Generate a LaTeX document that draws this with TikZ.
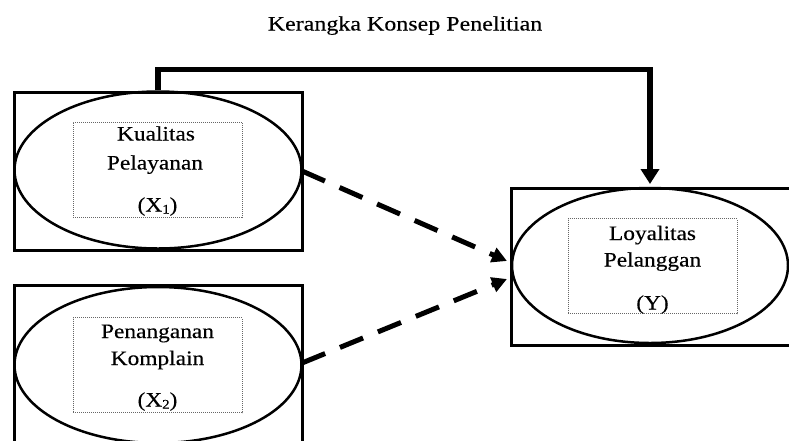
\documentclass[tikz,border=0pt]{standalone}
\usepackage{fontspec}
\setmainfont{Liberation Serif}
\newfontfamily\lblfont[FakeStretch=1.14,FakeBold=0.3]{Liberation Serif}
\newfontfamily\ttlfont[FakeStretch=1.17,FakeBold=0.25]{Liberation Serif}
\usetikzlibrary{shapes.geometric,arrows.meta}
\newcommand\subidx[1]{\raisebox{-2pt}{\fontsize{13}{13}\selectfont #1}}
\begin{document}
\begin{tikzpicture}[x=1pt,y=-1pt,
  outerbox/.style={draw, line width=3pt, rectangle, inner sep=0pt},
  concept/.style={draw, line width=2.5pt, ellipse, inner sep=0pt},
  dotbox/.style={draw=black!60, line width=0.9pt, dash pattern=on 1pt off 1pt, rectangle, inner sep=0pt, minimum width=169pt, minimum height=95pt},
  lbl/.style={font=\lblfont\fontsize{20.5}{24}\selectfont, anchor=base, inner sep=0pt},
  ttl/.style={font=\ttlfont\fontsize{20.5}{24}\selectfont, anchor=base, inner sep=0pt},
  solidarrow/.style={line width=5.5pt, -{Triangle[length=15pt,width=18pt]}},
  dasharrow/.style={line width=5pt, dash pattern=on 25pt off 16pt, -{Triangle[length=15pt,width=15pt]}}
]
\useasboundingbox (0,0) rectangle (789,440);
\clip (0,0) rectangle (789,440);

\node[ttl] (title) at (405,30.5) {Kerangka Konsep Penelitian};

% outer rectangles
\node[outerbox, minimum width=288pt, minimum height=158pt] (r1) at (158,171) {};
\node[outerbox, minimum width=288pt, minimum height=170pt] (r2) at (158,370) {};
\node[outerbox, minimum width=290pt, minimum height=157pt] (r3) at (656,266.5) {};

% ellipses
\node[concept, minimum width=287pt, minimum height=157pt] (e1) at (158,170) {};
\node[concept, minimum width=287pt, minimum height=156pt] (e2) at (158,365) {};
\node[concept, minimum width=276pt, minimum height=155pt] (e3) at (650,265.5) {};

% dotted boxes
\node[dotbox] (d1) at (157.5,169.5) {};
\node[dotbox] (d2) at (157.5,365) {};
\node[dotbox] (d3) at (652.5,266) {};

% labels
\node[lbl] (k1) at (156,140.5) {Kualitas};
\node[lbl] (k2) at (155,169.5) {Pelayanan};
\node[lbl] (k3) at (157.5,211.5) {(X\subidx{1})};
\node[lbl] (p1) at (157.5,338) {Penanganan};
\node[lbl] (p2) at (157.5,365) {Komplain};
\node[lbl] (p3) at (157.5,406.5) {(X\subidx{2})};
\node[lbl] (l1) at (652.5,240) {Loyalitas};
\node[lbl] (l2) at (652.5,266.5) {Pelanggan};
\node[lbl] (l3) at (652.5,309.5) {(Y)};

% connectors
\coordinate (topbend) at (650,69.5);
\coordinate (tip3) at (650,184);
\draw[solidarrow] (e1.north) -- (e1.north |- topbend) -- (topbend) -- (tip3);
\coordinate (tipA) at (507,261);
\coordinate (tipB) at (507,279);
\draw[dasharrow] (302,171) -- (tipA);
\draw[dasharrow] (302,363) -- (tipB);
\end{tikzpicture}
\end{document}
